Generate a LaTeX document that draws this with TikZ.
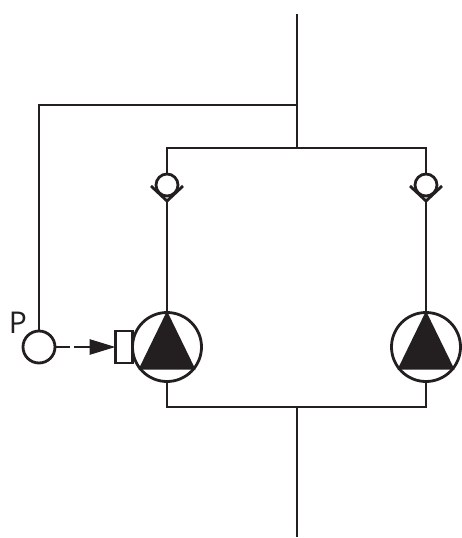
\documentclass[tikz,border=0pt]{standalone}
\usepackage{fontspec}
\setmainfont{Open Sans}
\usetikzlibrary{arrows.meta}
\definecolor{ink}{HTML}{231F20}
\begin{document}
\begin{tikzpicture}[x=1pt,y=-1pt,
     line/.style={line width=2.8pt,color=ink},
     pump/.style={draw=ink,circle,line width=2.8pt,minimum size=69pt,inner sep=0pt,outer sep=0pt},
     valve/.style={draw=ink,circle,line width=2.8pt,minimum size=22pt,inner sep=0pt,outer sep=0pt},
     sensor/.style={draw=ink,circle,line width=2.8pt,minimum size=32pt,inner sep=0pt,outer sep=0pt},
     drive/.style={draw=ink,rectangle,line width=2.8pt,minimum width=17pt,minimum height=32pt,inner sep=0pt,outer sep=0pt}
     ]
\useasboundingbox (0,0) rectangle (462,538);

%Height of the two headers and of the pumps
\def \ytop{148}
\def \ybot{407}
\def \ypump{347}
\def \xmain{297}

%Main line ends
\coordinate (in) at (\xmain,14);
\coordinate (out) at (\xmain,537);
\coordinate (tap) at (\xmain,105);
\coordinate (headtop) at (\xmain,\ytop);
\coordinate (headbot) at (\xmain,\ybot);

%Pumps with their check valves
\foreach \name/\x in {L/167,R/426}
{
\node[pump] (pump\name) at (\x,\ypump) {};
\node[valve] (valve\name) at (\x,185) {};
\fill[ink] (\x,311) -- (\x-28.5,369.5) -- (\x+28.5,369.5) -- cycle;
\draw[line] (\x-16,186) -- (\x,201) -- (\x+16,186);
\draw[line] (valve\name.north) -- (\x,\ytop) -- (headtop);
\draw[line] (\x,201) -- (pump\name.north);
\draw[line] (pump\name.south) -- (\x,\ybot) -- (headbot);
}

%Main line
\draw[line] (in) -- (headtop);
\draw[line] (headbot) -- (out);

%Pressure sensor and drive
\node[sensor] (sensor) at (39,\ypump) {};
\node[drive,anchor=east] (drive) at (pumpL.west) {};
\node[font=\fontsize{30}{30}\selectfont,text=ink,inner sep=0pt] (plabel) at (18,323) {P};
\draw[line] (sensor.north) -- (39,105) -- (tap);
\draw[line,dash pattern=on 15pt off 4pt on 12pt off 0pt] (sensor.east) -- (88,\ypump);
\draw[-{Triangle[length=26pt,width=15pt]},line] (87,\ypump) -- (drive.west);
\end{tikzpicture}
\end{document}
